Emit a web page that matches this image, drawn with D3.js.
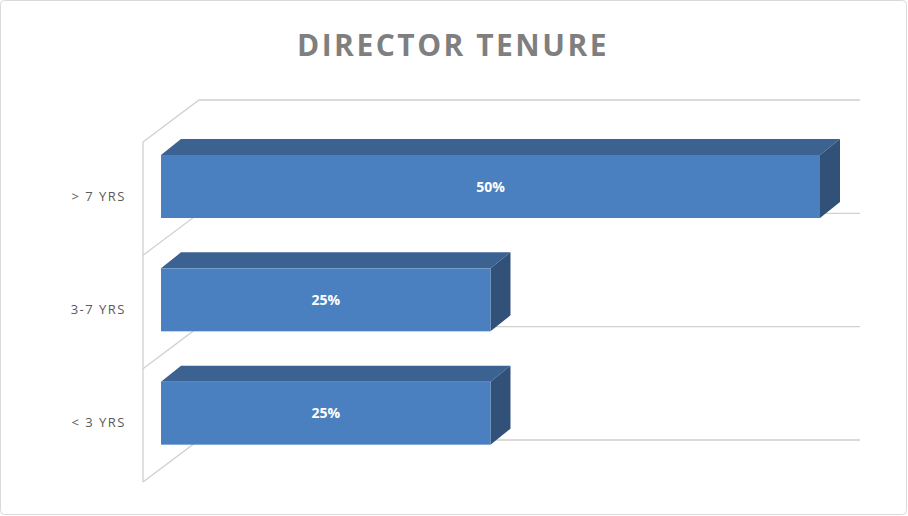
<!DOCTYPE html><html><head><script src="https://cdn.jsdelivr.net/npm/d3@7"></script>
<style>body{margin:0;background:#fff}</style></head><body><svg id="c" width="908" height="516"></svg>
<script>
const categories = ["> 7 YRS","3-7 YRS","< 3 YRS"];
const values = [50,25,25];
const labels = ["50%","25%","25%"];
const svg = d3.select("#c");
svg.append("rect").attr("x",0.5).attr("y",0.5).attr("width",906).attr("height",514).attr("rx",4).attr("fill","#fff").attr("stroke","#d9d9d9");
svg.append("text").attr("x",453).attr("y",56).attr("text-anchor","middle").attr("font-family","Open Sans, sans-serif").attr("font-weight","bold").attr("font-size",30).attr("letter-spacing",2.5).attr("fill","#7f7f7f").text("DIRECTOR TENURE");
const dxW=56, dyW=42; // wall depth
const back = d3.scaleBand().domain(categories).range([100,440]);
const x = d3.scaleLinear().domain([0,50]).range([161,820]);
const g = svg.append("g").attr("fill","none").attr("stroke","#d0d0d0").attr("stroke-width",1.3);
const bx0=199, bx1=860, fx=bx0-dxW;
const ys=[100, ...categories.map(c=>back(c)+back.bandwidth())];
ys.forEach(y=>{
  g.append("path").attr("d",`M${bx1},${y}H${bx0}L${fx},${y+dyW}`);
});
g.append("path").attr("d",`M${fx},${100+dyW}V${440+dyW}`);
const bd=20, bh=16;
categories.forEach((c,i)=>{
  const y0 = back(c)+55-dyW+ (113.3-113.3); // front top
  const top = back(c)+55, h=63;
  const x0=x(0), x1=x(values[i]);
  svg.append("path").attr("d",`M${x0},${top}L${x0+bd},${top-bh}H${x1+bd}L${x1},${top}Z`).attr("fill","#3c6291");
  svg.append("path").attr("d",`M${x1},${top}L${x1+bd},${top-bh}V${top+h-bh}L${x1},${top+h}Z`).attr("fill","#325178");
  svg.append("rect").attr("x",x0).attr("y",top).attr("width",x1-x0).attr("height",h).attr("fill","#4a80c0");
  svg.append("text").attr("x",(x0+x1)/2).attr("y",top+h/2+5).attr("text-anchor","middle").attr("font-family","Open Sans, sans-serif").attr("font-weight","bold").attr("font-size",14).attr("fill","#fff").text(labels[i]);
  svg.append("text").attr("x",126).attr("y",top+h/2+14).attr("text-anchor","end").attr("font-family","Open Sans, sans-serif").attr("font-size",13).attr("letter-spacing",1.5).attr("fill","#595959").text(c);
});
</script></body></html>
